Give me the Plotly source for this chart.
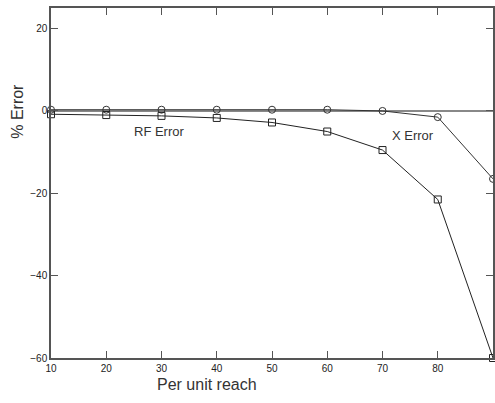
import plotly.graph_objects as go

reach = [10, 20, 30, 40, 50, 60, 70, 80, 90]
x_error = [0.3, 0.3, 0.3, 0.3, 0.3, 0.3, 0.0, -1.5, -16.5]
rf_error = [-0.8, -1.0, -1.2, -1.7, -2.8, -5.0, -9.5, -21.5, -60.0]
x_ticks = [10, 20, 30, 40, 50, 60, 70, 80, 90]
y_ticks = [20, 0, -20, -40, -60]

FONT = "Liberation Sans, Arial, sans-serif"

fig = go.Figure()
fig.add_trace(go.Scatter(
    x=reach, y=x_error, mode="lines+markers", name="X Error",
    line=dict(color="#333333", width=1),
    marker=dict(symbol="circle-open", size=7, color="#333333", line=dict(width=1)),
    cliponaxis=False,
))
fig.add_trace(go.Scatter(
    x=reach, y=rf_error, mode="lines+markers", name="RF Error",
    line=dict(color="#222222", width=1),
    marker=dict(symbol="square-open", size=7, color="#222222", line=dict(width=1)),
    cliponaxis=False,
))

fig.add_annotation(x=29.7, y=-4.9, text="RF Error", showarrow=False,
                   font=dict(family=FONT, size=13, color="#333333"))
fig.add_annotation(x=75.5, y=-5.9, text="X Error", showarrow=False,
                   font=dict(family=FONT, size=13, color="#333333"))
fig.add_annotation(xref="paper", yref="y", x=-0.075, y=0, text="% Error",
                   xanchor="center", yanchor="middle",
                   showarrow=False, textangle=-90,
                   font=dict(family=FONT, size=16, color="#333333"))
fig.add_annotation(xref="paper", yref="paper", x=0.353, y=-0.077, text="Per unit reach",
                   xanchor="center", yanchor="middle", showarrow=False,
                   font=dict(family=FONT, size=16, color="#333333"))

fig.update_layout(
    width=495, height=403,
    margin=dict(l=51, r=2, t=8, b=45, autoexpand=False),
    paper_bgcolor="white", plot_bgcolor="white",
    showlegend=False,
    font=dict(family=FONT, size=10, color="#222222"),
)
fig.update_xaxes(
    range=[10, 90], tickvals=x_ticks, ticks="inside", ticklen=7,
    tickcolor="#555555", showline=True, linecolor="#555555", linewidth=1.5,
    mirror="ticks", showgrid=False, zeroline=False, automargin=False,
    tickfont=dict(size=10),
)
fig.update_yaxes(
    range=[-60, 25], tickvals=y_ticks, ticks="inside", ticklen=7,
    tickcolor="#555555", showline=True, linecolor="#555555", linewidth=1.5,
    mirror="ticks", showgrid=False, zeroline=True, zerolinecolor="#888888", zerolinewidth=2,
    automargin=False, tickfont=dict(size=10),
)

fig.write_html("out.html", config={"displayModeBar": False},
               post_script="document.body.style.margin='0';document.body.style.overflow='hidden';")
